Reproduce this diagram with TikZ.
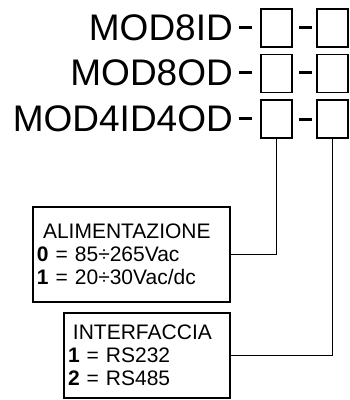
\documentclass[tikz,border=0pt]{standalone}
\usepackage{fontspec}
\setmainfont{Liberation Sans}
\usepackage{tikz}
\usetikzlibrary{positioning}

\begin{document}
\begin{tikzpicture}[
  x=1pt, y=-1pt,
  model/.style={
    anchor=base east,
    inner sep=0pt,
    font=\fontsize{37}{40}\selectfont
  },
  code/.style={
    draw,
    line width=1.6pt,
    minimum width=31pt,
    minimum height=38pt,
    inner sep=0pt
  },
  hyph/.style={
    fill=black,
    minimum width=13pt,
    minimum height=3pt,
    inner sep=0pt
  },
  legend/.style={
    draw,
    line width=1.4pt,
    align=left,
    inner xsep=4pt,
    font=\fontsize{21}{23}\selectfont
  },
  link/.style={line width=1.4pt}
]
\useasboundingbox (0,0) rectangle (350,400);

\node[model] (m1) at (233,40) {MOD8ID};
\node[hyph] (h11) at (245.5,27) {};
\node[code] (a1) at (276.5,28) {};
\node[hyph] (h12) at (305,27) {};
\node[code] (b1) at (332.5,28) {};

\node[model] (m2) at (233,85.5) {MOD8OD};
\node[hyph] (h21) at (245.5,72.5) {};
\node[code] (a2) at (276.5,73.5) {};
\node[hyph] (h22) at (305,72.5) {};
\node[code] (b2) at (332.5,73.5) {};

\node[model] (m3) at (233,131) {MOD4ID4OD};
\node[hyph] (h31) at (245.5,118) {};
\node[code] (a3) at (276.5,119) {};
\node[hyph] (h32) at (305,119) {};
\node[code] (b3) at (332.5,119) {};

\node[legend, text width=189pt, minimum height=95pt] (alim) at (131.5,254.5) {
  \hspace*{6pt}ALIMENTAZIONE\\
  \textbf{0} = 85÷265Vac\\
  \textbf{1} = 20÷30Vac/dc
};
\node[legend, text width=158pt, minimum height=85pt] (inter) at (147,355.5) {
  \hspace*{5pt}INTERFACCIA\\
  \textbf{1} = RS232\\
  \textbf{2} = RS485
};

\draw[link] (a3.south) |- (alim.east);
\draw[link] (b3.south) |- (inter.east);

\end{tikzpicture}
\end{document}
